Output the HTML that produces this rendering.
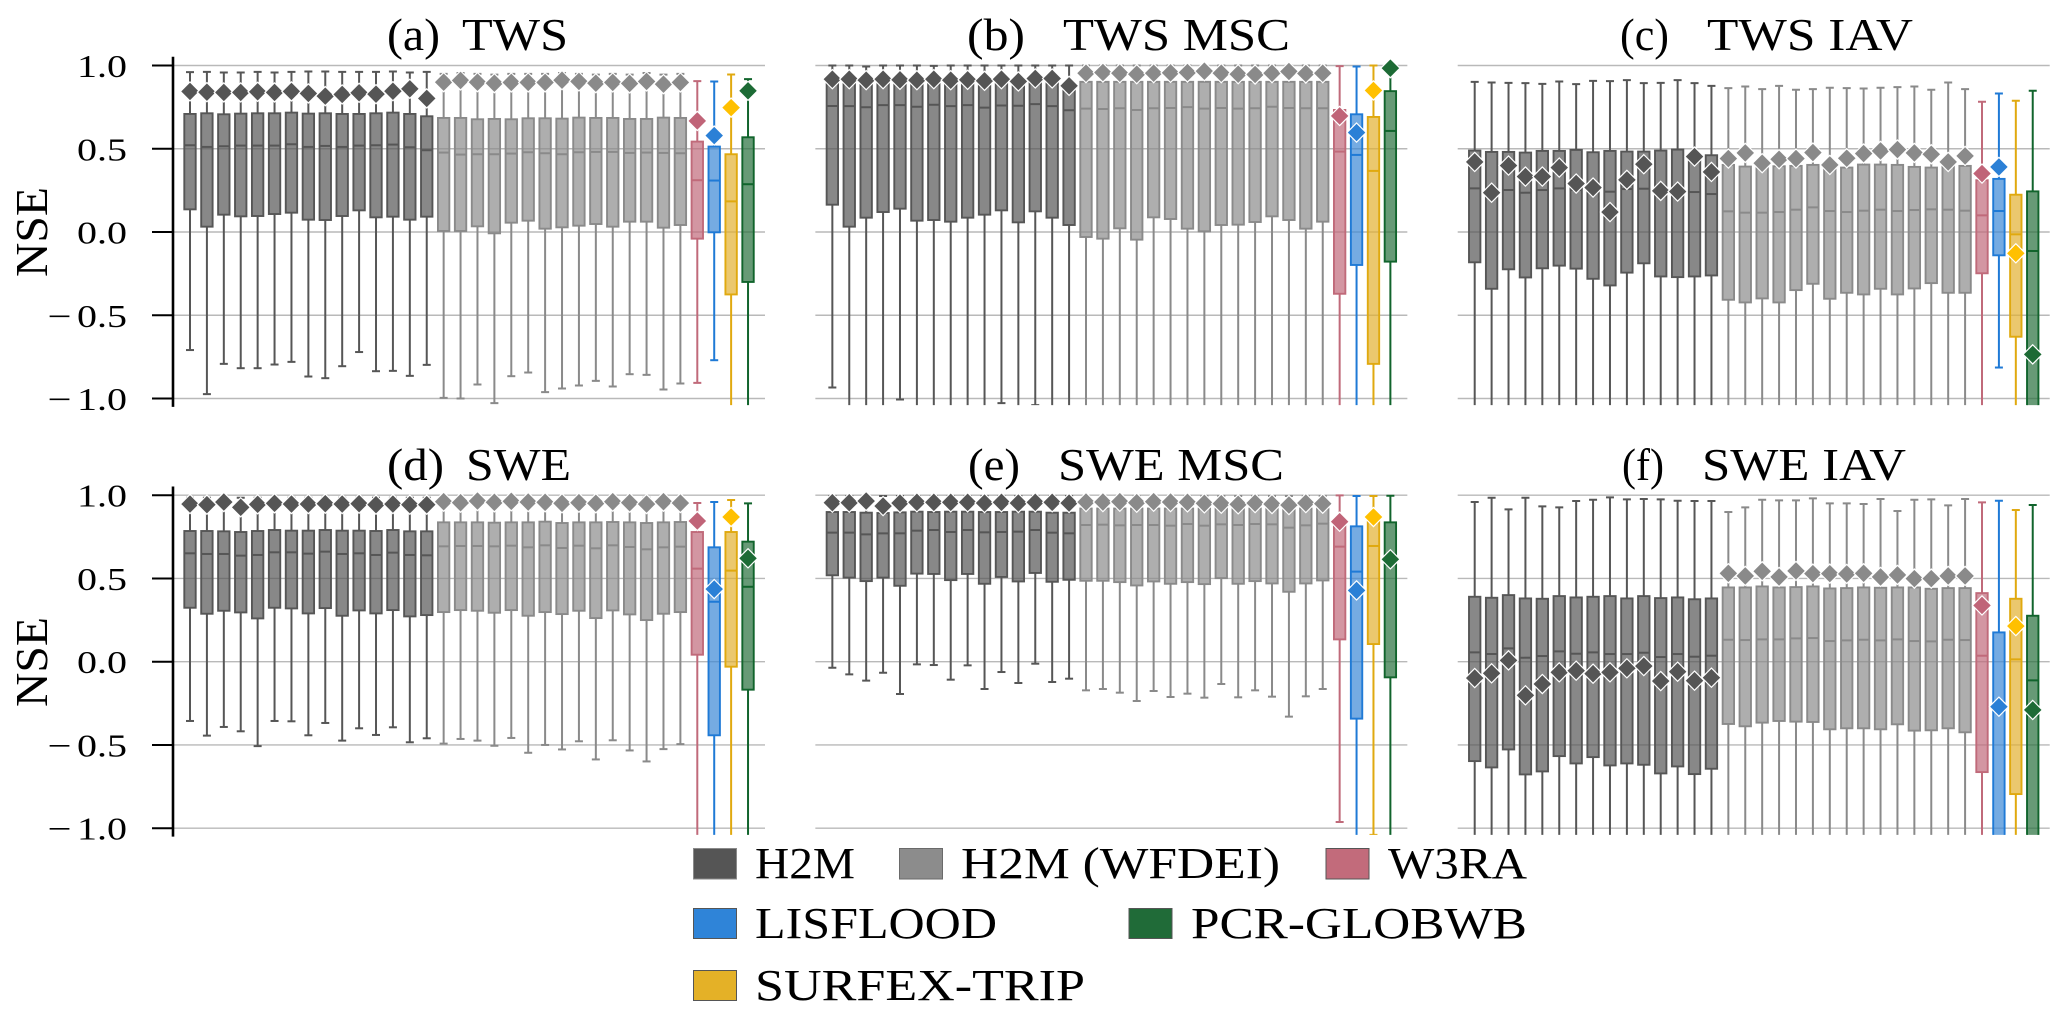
<!DOCTYPE html>
<html lang="en">
<head>
<meta charset="utf-8">
<title>NSE box plots for TWS and SWE</title>
<style>
html,body{margin:0;padding:0;background:#fff;}
svg{display:block;}
text{font-family:"Liberation Serif",serif;fill:#000;}
.title{font-size:46px;}
.legend-label{font-size:44px;}
.tick{font-size:32px;}
.ylab{font-size:46px;}
</style>
</head>
<body>
<svg id="chart" xmlns="http://www.w3.org/2000/svg" width="2067" height="1019" viewBox="0 0 2067 1019">
  <rect x="0" y="0" width="2067" height="1019" fill="#fff"/>
  <g id="plots"></g>

  <g><text class="title" x="387" y="50" textLength="53" lengthAdjust="spacingAndGlyphs">(a)</text><text class="title" x="462" y="50" textLength="106" lengthAdjust="spacingAndGlyphs">TWS</text></g>
  <g><text class="title" x="967" y="50" textLength="58" lengthAdjust="spacingAndGlyphs">(b)</text><text class="title" x="1063" y="50" textLength="227" lengthAdjust="spacingAndGlyphs">TWS MSC</text></g>
  <g><text class="title" x="1620" y="50" textLength="49" lengthAdjust="spacingAndGlyphs">(c)</text><text class="title" x="1707" y="50" textLength="206" lengthAdjust="spacingAndGlyphs">TWS IAV</text></g>
  <g><text class="title" x="387" y="480" textLength="57" lengthAdjust="spacingAndGlyphs">(d)</text><text class="title" x="466" y="480" textLength="105" lengthAdjust="spacingAndGlyphs">SWE</text></g>
  <g><text class="title" x="968" y="480" textLength="52" lengthAdjust="spacingAndGlyphs">(e)</text><text class="title" x="1058" y="480" textLength="226" lengthAdjust="spacingAndGlyphs">SWE MSC</text></g>
  <g><text class="title" x="1622" y="480" textLength="42" lengthAdjust="spacingAndGlyphs">(f)</text><text class="title" x="1702" y="480" textLength="204" lengthAdjust="spacingAndGlyphs">SWE IAV</text></g>

  <text class="ylab" transform="translate(47,277) rotate(-90)" textLength="90" lengthAdjust="spacingAndGlyphs">NSE</text>
  <text class="ylab" transform="translate(47,707) rotate(-90)" textLength="90" lengthAdjust="spacingAndGlyphs">NSE</text>

  <g>
    <g><rect x="693.5" y="848.5" width="43" height="30.5" fill="#555555" stroke="#8a8a8a" stroke-width="1"/><text class="legend-label" x="755" y="878" textLength="100" lengthAdjust="spacingAndGlyphs">H2M</text></g>
    <g><rect x="899.5" y="848.5" width="43" height="30.5" fill="#8c8c8c" stroke="#6a6a6a" stroke-width="1"/><text class="legend-label" x="961" y="878" textLength="319" lengthAdjust="spacingAndGlyphs">H2M (WFDEI)</text></g>
    <g><rect x="1326" y="848.5" width="43" height="30.5" fill="#c26b7b" stroke="#555" stroke-width="1"/><text class="legend-label" x="1388" y="878" textLength="139" lengthAdjust="spacingAndGlyphs">W3RA</text></g>
    <g><rect x="693.5" y="908.5" width="43" height="30" fill="#2f84d8" stroke="#555" stroke-width="1"/><text class="legend-label" x="755" y="938" textLength="242" lengthAdjust="spacingAndGlyphs">LISFLOOD</text></g>
    <g><rect x="1129" y="908.5" width="43" height="30" fill="#206b38" stroke="#555" stroke-width="1"/><text class="legend-label" x="1191" y="938" textLength="336" lengthAdjust="spacingAndGlyphs">PCR-GLOBWB</text></g>
    <g><rect x="693.5" y="970.5" width="43" height="30" fill="#e4b127" stroke="#555" stroke-width="1"/><text class="legend-label" x="755" y="1000" textLength="330" lengthAdjust="spacingAndGlyphs">SURFEX-TRIP</text></g>
  </g>
</svg>

<script>
// Categories and tick labels
const models = [
  'H2M','H2M','H2M','H2M','H2M','H2M','H2M','H2M','H2M','H2M','H2M','H2M','H2M','H2M','H2M',
  'H2M (WFDEI)','H2M (WFDEI)','H2M (WFDEI)','H2M (WFDEI)','H2M (WFDEI)','H2M (WFDEI)','H2M (WFDEI)','H2M (WFDEI)','H2M (WFDEI)','H2M (WFDEI)','H2M (WFDEI)','H2M (WFDEI)','H2M (WFDEI)','H2M (WFDEI)','H2M (WFDEI)',
  'W3RA','LISFLOOD','SURFEX-TRIP','PCR-GLOBWB'];
const tickValues = [1.0, 0.5, 0.0, -0.5, -1.0];
const tickLabels = ['1.0', '0.5', '0.0', '\u22120.5', '\u22121.0'];

// (a) TWS
const aHi = [.96,.962,.958,.958,.962,.958,.962,.964,.964,.962,.962,.962,.964,.958,.962, .95,.955,.95,.945,.95,.95,.95,.955,.95,.945,.95,.945,.955,.945,.95, .906,.904,.946,.918];
const aQ3 = [.709,.713,.707,.711,.713,.713,.717,.711,.713,.709,.709,.713,.717,.709,.695, .685,.685,.677,.679,.677,.683,.683,.681,.687,.685,.685,.679,.679,.687,.685, .543,.513,.467,.569];
const aMed = [.521,.511,.515,.519,.519,.519,.527,.511,.517,.511,.519,.521,.525,.509,.491, .477,.465,.467,.467,.471,.479,.473,.467,.479,.481,.481,.475,.477,.475,.473, .311,.309,.184,.287];
const aQ1 = [.136,.032,.104,.094,.096,.108,.116,.074,.072,.096,.130,.088,.092,.074,.092, .006,.006,.034,-.008,.056,.068,.020,.028,.038,.048,.032,.062,.062,.026,.042, -.04,-.002,-.375,-.30];
const aLo = [-.709,-.974,-.792,-.818,-.818,-.796,-.780,-.868,-.878,-.806,-.721,-.836,-.834,-.864,-.798, -.996,-1.0,-.916,-1.028,-.866,-.844,-.962,-.940,-.922,-.894,-.928,-.854,-.858,-.946,-.910, -.906,-.77,-1.3,-1.3];
const aMark = [.844,.840,.838,.838,.842,.838,.844,.832,.816,.826,.836,.828,.846,.860,.802, .900,.910,.900,.894,.898,.898,.898,.912,.904,.894,.898,.892,.904,.888,.898, .667,.579,.747,.848];

// (b) TWS MSC
const bHi = [1,1,.994,1,1,1,.998,1,1,1,1,1,1,1,1, 1,1,1,1,1,1,1,1,1,1,1,1,1,1,1, .996,.994,1,.99];
const bQ3 = [.90,.90,.895,.90,.90,.895,.90,.895,.90,.89,.90,.885,.90,.90,.855, .902,.902,.902,.902,.902,.902,.902,.902,.902,.902,.902,.902,.902,.902,.902, .733,.707,.691,.846];
const bMed = [.757,.756,.749,.762,.762,.752,.764,.756,.762,.747,.760,.758,.768,.756,.731, .741,.739,.743,.733,.743,.745,.750,.741,.745,.741,.743,.752,.745,.743,.743, .483,.463,.367,.607];
const bQ1 = [.164,.032,.086,.120,.140,.068,.072,.062,.086,.104,.130,.058,.124,.086,.042, -.03,-.04,.022,-.046,.088,.078,.02,.004,.042,.044,.06,.094,.072,.02,.062, -.371,-.198,-.792,-.178];
const bLo = [-.934,-1.2,-1.2,-1.2,-1.006,-1.2,-1.2,-1.2,-1.2,-1.2,-1.028,-1.2,-1.04,-1.2,-1.2, -1.2,-1.2,-1.2,-1.2,-1.2,-1.2,-1.2,-1.2,-1.2,-1.2,-1.2,-1.2,-1.2,-1.2,-1.2, -1.2,-1.2,-1.2,-1.2];
const bMark = [.918,.918,.912,.918,.914,.912,.918,.912,.914,.908,.918,.904,.922,.922,.878, .954,.958,.954,.948,.954,.956,.958,.966,.954,.948,.946,.954,.964,.952,.954, .697,.597,.85,.984];

// (c) TWS IAV
const cHi = [.902,.898,.896,.894,.890,.904,.888,.908,.906,.912,.894,.896,.912,.894,.878, .864,.874,.858,.878,.854,.858,.866,.864,.862,.866,.870,.874,.854,.898,.858, .782,.832,.788,.848];
const cQ3 = [.489,.481,.481,.477,.487,.487,.493,.479,.487,.483,.483,.489,.495,.461,.461, .403,.393,.399,.395,.397,.403,.403,.387,.405,.405,.403,.391,.387,.397,.397, .311,.319,.224,.244];
const cMed = [.262,.242,.252,.236,.252,.262,.252,.252,.242,.258,.26,.252,.252,.24,.228, .124,.116,.116,.12,.134,.148,.126,.12,.128,.134,.126,.132,.136,.134,.128, .10,.126,-.014,-.114];
const cQ1 = [-.182,-.341,-.224,-.273,-.218,-.202,-.220,-.281,-.321,-.244,-.188,-.267,-.271,-.267,-.261, -.407,-.423,-.399,-.423,-.349,-.311,-.401,-.365,-.375,-.341,-.375,-.339,-.307,-.365,-.365, -.248,-.14,-.629,-1.2];
const cLo = [-1.2,-1.2,-1.2,-1.2,-1.2,-1.2,-1.2,-1.2,-1.2,-1.2,-1.2,-1.2,-1.2,-1.2,-1.2, -1.2,-1.2,-1.2,-1.2,-1.2,-1.2,-1.2,-1.2,-1.2,-1.2,-1.2,-1.2,-1.2,-1.2,-1.2, -1.2,-.814,-1.2,-1.3];
const cMark = [.421,.236,.399,.333,.333,.387,.291,.267,.120,.313,.407,.247,.243,.453,.361, .441,.475,.413,.437,.441,.477,.403,.443,.471,.487,.495,.475,.467,.421,.457, .351,.391,-.128,-.735];

// (d) SWE
const dHi = [.985,.985,.985,.985,.985,.985,.985,.985,.985,.985,.985,.985,.985,.985,.985, .985,.985,.985,.985,.985,.985,.985,.985,.985,.985,.985,.985,.985,.985,.985, .953,.959,.971,.951];
const dQ3 = [.785,.785,.783,.779,.785,.791,.787,.787,.791,.787,.787,.785,.791,.783,.783, .837,.837,.837,.835,.837,.837,.841,.833,.837,.837,.839,.837,.833,.837,.839, .779,.687,.779,.721];
const dMed = [.651,.647,.647,.637,.641,.657,.657,.649,.661,.647,.651,.641,.655,.641,.639, .693,.695,.695,.693,.697,.687,.699,.683,.697,.681,.699,.689,.675,.687,.691, .559,.360,.547,.450];
const dQ1 = [.324,.288,.306,.296,.260,.324,.320,.290,.322,.276,.308,.290,.310,.272,.280, .298,.310,.306,.294,.310,.276,.298,.286,.306,.262,.308,.284,.250,.288,.298, .042,-.442,-.03,-.168];
const dLo = [-.356,-.444,-.392,-.418,-.507,-.356,-.358,-.442,-.368,-.474,-.400,-.440,-.394,-.484,-.460, -.492,-.464,-.474,-.505,-.458,-.547,-.500,-.527,-.478,-.587,-.472,-.533,-.599,-.525,-.495, -1.2,-1.2,-1.2,-1.2];
const dMark = [.947,.943,.959,.927,.945,.951,.947,.947,.949,.947,.949,.943,.947,.943,.943, .961,.955,.965,.957,.963,.959,.957,.951,.955,.951,.961,.955,.947,.961,.953, .845,.436,.869,.621];

// (e) SWE MSC
const eHi = [.995,.995,.995,.995,.995,.995,.995,.995,.995,.995,.995,.995,.995,.995,.995, .995,.995,.995,.995,.995,.995,.995,.995,.995,.995,.995,.995,.995,.995,.995, .999,.995,.995,.997];
const eQ3 = [.899,.899,.895,.893,.897,.901,.899,.901,.901,.899,.899,.901,.901,.895,.895, .92,.92,.92,.92,.92,.92,.92,.92,.92,.92,.92,.92,.92,.92,.92, .82,.813,.841,.837];
const eMed = [.775,.775,.765,.771,.771,.787,.791,.779,.791,.777,.779,.781,.791,.775,.771, .821,.823,.819,.821,.821,.817,.827,.817,.825,.821,.827,.825,.805,.819,.829, .691,.541,.695,.61];
const eQ1 = [.519,.505,.484,.505,.456,.529,.527,.490,.527,.468,.509,.482,.533,.480,.492, .486,.486,.478,.458,.482,.468,.478,.466,.502,.468,.484,.470,.420,.470,.488, .134,-.342,.106,-.094];
const eLo = [-.036,-.076,-.114,-.066,-.194,-.016,-.020,-.108,-.022,-.164,-.062,-.128,-.012,-.122,-.102, -.172,-.164,-.186,-.236,-.176,-.212,-.192,-.216,-.134,-.214,-.172,-.210,-.330,-.208,-.164, -.963,-1.2,-1.04,-1.2];
const eMark = [.955,.955,.965,.935,.953,.957,.957,.957,.957,.953,.957,.953,.957,.957,.953, .959,.959,.961,.955,.961,.959,.957,.951,.949,.945,.953,.947,.941,.953,.949, .841,.428,.869,.615];

// (f) SWE IAV
const fHi = [.959,.985,.915,.985,.933,.927,.965,.973,.987,.975,.977,.975,.967,.965,.965, .899,.927,.973,.969,.969,.981,.951,.951,.947,.977,.905,.973,.975,.939,.977, .957,.967,.911,.941];
const fQ3 = [.390,.384,.400,.380,.378,.394,.386,.390,.394,.380,.394,.382,.386,.375,.380, .446,.446,.452,.446,.448,.452,.440,.442,.446,.444,.446,.446,.438,.442,.442, .412,.176,.378,.276];
const fMed = [.056,.046,.080,.024,.034,.062,.048,.056,.046,.046,.054,.028,.046,.030,.036, .132,.130,.134,.134,.140,.142,.124,.128,.132,.128,.134,.124,.122,.132,.130, .036,-.27,.014,-.112];
const fQ1 = [-.597,-.635,-.527,-.677,-.659,-.567,-.611,-.573,-.623,-.611,-.619,-.671,-.629,-.675,-.643, -.374,-.388,-.366,-.356,-.360,-.362,-.406,-.400,-.400,-.406,-.376,-.414,-.412,-.400,-.424, -.663,-1.2,-.795,-1.2];
const fLo = [-1.2,-1.2,-1.2,-1.2,-1.2,-1.2,-1.2,-1.2,-1.2,-1.2,-1.2,-1.2,-1.2,-1.2,-1.2, -1.2,-1.2,-1.2,-1.2,-1.2,-1.2,-1.2,-1.2,-1.2,-1.2,-1.2,-1.2,-1.2,-1.2,-1.2, -1.2,-1.3,-1.2,-1.3];
const fMark = [-.098,-.070,.008,-.202,-.134,-.064,-.054,-.072,-.064,-.04,-.026,-.116,-.060,-.114,-.096, .531,.515,.543,.509,.545,.529,.529,.527,.531,.509,.521,.499,.499,.515,.515, .338,-.270,.214,-.290];

const panelSeries = [
  {id:'a', hi:aHi, q3:aQ3, med:aMed, q1:aQ1, lo:aLo, mark:aMark},
  {id:'b', hi:bHi, q3:bQ3, med:bMed, q1:bQ1, lo:bLo, mark:bMark},
  {id:'c', hi:cHi, q3:cQ3, med:cMed, q1:cQ1, lo:cLo, mark:cMark},
  {id:'d', hi:dHi, q3:dQ3, med:dMed, q1:dQ1, lo:dLo, mark:dMark},
  {id:'e', hi:eHi, q3:eQ3, med:eMed, q1:eQ1, lo:eLo, mark:eMark},
  {id:'f', hi:fHi, q3:fQ3, med:fMed, q1:fQ1, lo:fLo, mark:fMark}
];

// Styles per model
const modelStyle = {
  'H2M':         {edge:'#565656', fill:'#555555', mark:'#555555'},
  'H2M (WFDEI)': {edge:'#8a8a8a', fill:'#8c8c8c', mark:'#8a8a8a'},
  'W3RA':        {edge:'#c06a7a', fill:'#c06a7a', mark:'#c06478'},
  'LISFLOOD':    {edge:'#1f7ad6', fill:'#3a87d6', mark:'#2b80d6'},
  'SURFEX-TRIP': {edge:'#e0a90f', fill:'#e2b030', mark:'#ffc000'},
  'PCR-GLOBWB':  {edge:'#11642c', fill:'#266f3c', mark:'#1d6b35'}
};

const NS = 'http://www.w3.org/2000/svg';
const root = document.getElementById('plots');

function make(tag, parent, attrs) {
  const el = document.createElementNS(NS, tag);
  for (const k in attrs) el.setAttribute(k, attrs[k]);
  parent.appendChild(el);
  return el;
}

// Axis functions
function rowCenter(row) { return row === 0 ? 232 : 661.7; }
function yScale(row, v) { return rowCenter(row) - v * 166.5; }
function colLeft(col) { return 173 + col * 642.35; }
function xScale(col, i) { return colLeft(col) + 17 + i * 16.91; }

const defs = make('defs', root, {});
panelSeries.forEach(function (p, idx) {
  const col = idx % 3;
  const row = Math.floor(idx / 3);
  const left = colLeft(col);
  const right = left + 592;
  const clipId = 'clip-' + p.id;
  const clip = make('clipPath', defs, {id: clipId});
  make('rect', clip, {x: left, y: yScale(row, 1.04) - 1, width: 600, height: 166.5 * 2.08 + 1});

  const panel = make('g', root, {});
  
  

  tickValues.forEach(function (t) {
    const grid = make('line', panel, {x1: left, x2: right, y1: yScale(row, t), y2: yScale(row, t), stroke: '#b9b9b9', 'stroke-width': 1.4});
    
    
  });

  const marks = make('g', panel, {'clip-path': 'url(#' + clipId + ')'});
  
  

  models.forEach(function (m, i) {
    const s = modelStyle[m];
    const x = xScale(col, i);
    const g = make('g', marks, {});
    
    
    const yHi = yScale(row, p.hi[i]), yQ3 = yScale(row, p.q3[i]), yMed = yScale(row, p.med[i]),
          yQ1 = yScale(row, p.q1[i]), yLo = yScale(row, p.lo[i]), yMark = yScale(row, p.mark[i]);
    const line = {stroke: s.edge, 'stroke-width': 2};
    make('line', g, Object.assign({x1: x, x2: x, y1: yQ3, y2: yHi}, line));
    make('line', g, Object.assign({x1: x, x2: x, y1: yQ1, y2: yLo}, line));
    make('line', g, Object.assign({x1: x - 4, x2: x + 4, y1: yHi, y2: yHi}, line));
    make('line', g, Object.assign({x1: x - 4, x2: x + 4, y1: yLo, y2: yLo}, line));
    make('rect', g, {x: x - 5.7, y: yQ3, width: 11.4, height: yQ1 - yQ3, fill: s.fill, 'fill-opacity': 0.7, stroke: s.edge, 'stroke-width': 1.9});
    make('line', g, Object.assign({x1: x - 5.7, x2: x + 5.7, y1: yMed, y2: yMed}, line));
    const d = 9.6;
    const diamond = make('polygon', g, {
      points: x + ',' + (yMark - d) + ' ' + (x + d) + ',' + yMark + ' ' + x + ',' + (yMark + d) + ' ' + (x - d) + ',' + yMark,
      fill: s.mark, stroke: '#fff', 'stroke-width': 1.2
    });
    
    
  });

  if (col === 0) {
    const axis = make('g', panel, {});
    
    
    make('line', axis, {x1: 173, x2: 173, y1: yScale(row, 1) - 8.7, y2: yScale(row, -1) + 8.4, stroke: '#000', 'stroke-width': 2.6});
    tickValues.forEach(function (t, k) {
      const y = yScale(row, t);
      make('line', axis, {x1: 152, x2: 173, y1: y, y2: y, stroke: '#000', 'stroke-width': 2});
      const label = tickLabels[k];
      const hasMinus = label.charAt(0) === '\u2212';
      const digits = hasMinus ? label.slice(1) : label;
      if (hasMinus) {
        const minus = make('text', axis, {'class': 'tick', x: 47.5, y: y + 11.5, textLength: 24, lengthAdjust: 'spacingAndGlyphs'});
        
        
        minus.textContent = '\u2212';
      }
      const txt = make('text', axis, {'class': 'tick', x: 77, y: y + 11.5, textLength: 50, lengthAdjust: 'spacingAndGlyphs'});
      
      
      txt.textContent = digits;
    });
  }
});
</script>
</body>
</html>
